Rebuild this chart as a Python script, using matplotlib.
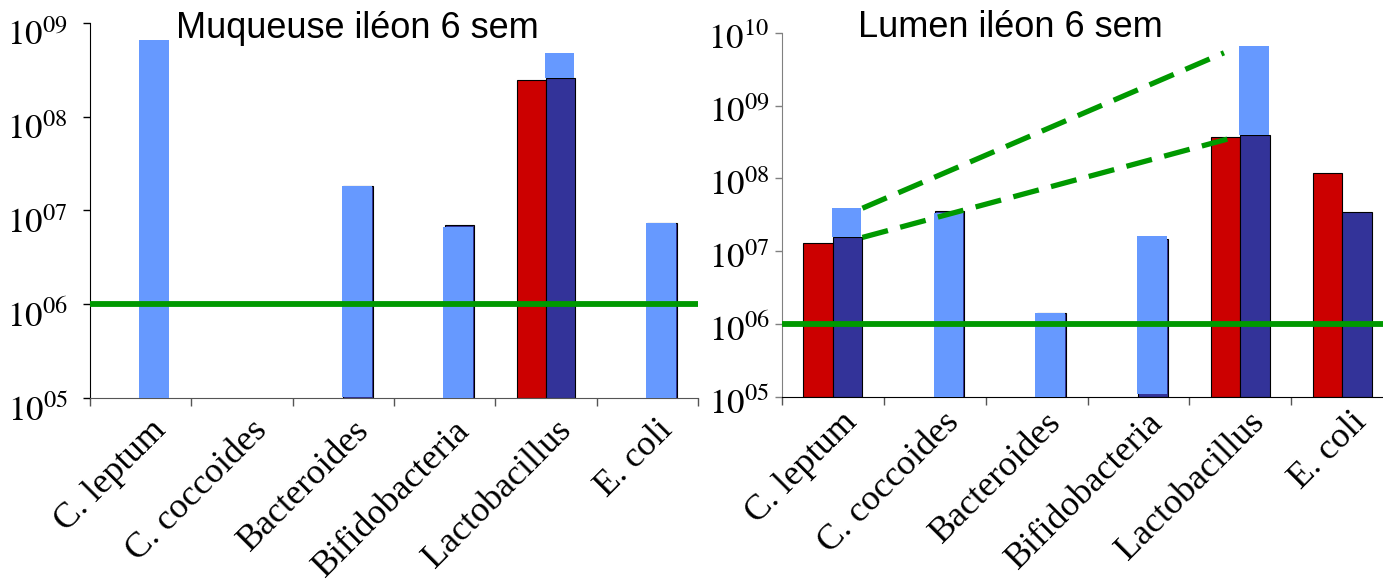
import numpy as np
import matplotlib
matplotlib.use("Agg")
import matplotlib.pyplot as plt
from matplotlib.ticker import FixedLocator, FuncFormatter, NullLocator
from matplotlib.transforms import ScaledTranslation

categories = ["C. leptum", "C. coccoides", "Bacteroides", "Bifidobacteria", "Lactobacillus", "E. coli"]

# Muqueuse iléon 6 sem
muq_red = [np.nan, np.nan, np.nan, np.nan, 2.45e8, np.nan]
muq_dark = [np.nan, np.nan, 1.8e7, 6.9e6, 2.6e8, 7.4e6]
muq_light_top = [6.6e8, np.nan, 1.8e7, 6.6e6, 4.8e8, 7.4e6]
muq_light_bottom = [1e5, np.nan, 1.03e5, 1e5, 2.6e8, 1e5]

# Lumen iléon 6 sem
lum_red = [1.31e7, np.nan, np.nan, np.nan, 3.7e8, 1.17e8]
lum_dark = [1.55e7, 3.6e7, 1.4e6, 1.48e7, 3.9e8, 3.46e7]
lum_light_top = [3.9e7, 3.4e7, 1.41e6, 1.62e7, 6.5e9, np.nan]
lum_light_bottom = [1.55e7, 1e5, 1e5, 1.1e5, 3.9e8, np.nan]

threshold = 1e6

RED = "#CC0000"
DARK = "#333399"
LIGHT = "#6699FF"
GREEN = "#009900"

plt.rcParams["mathtext.fontset"] = "stix"

fig = plt.figure(figsize=(13.83, 5.87), dpi=100)
axL = fig.add_axes([90 / 1383, (587 - 398) / 587, 608 / 1383, 375.3 / 587])
axR = fig.add_axes([782 / 1383, (587 - 397) / 587, 611 / 1383, 364.3 / 587])

W = 0.29


def draw(ax, red, dark, ltop, lbot, ymin, ymax, title, tx, ty,
         ypad, ylab_dy, xlab_dx, xlab_dy, left_color, bottom_color):
    x = np.arange(len(categories))
    red = np.array(red, float)
    dark = np.array(dark, float)
    ltop = np.array(ltop, float)
    lbot = np.array(lbot, float)
    m = np.isfinite(red)
    ax.bar(x[m] - W, red[m] - ymin, bottom=ymin, width=W, align="edge",
           color=RED, edgecolor="black", linewidth=0.8, zorder=2)
    m = np.isfinite(dark)
    ax.bar(x[m], dark[m] - ymin, bottom=ymin, width=W, align="edge",
           color=DARK, edgecolor="black", linewidth=0.8, zorder=2)
    m = np.isfinite(ltop)
    ax.bar(x[m] - 0.012, ltop[m] - lbot[m], bottom=lbot[m], width=W, align="edge",
           color=LIGHT, linewidth=0, zorder=3)
    ax.axhline(threshold, color=GREEN, linewidth=4.2, zorder=4)

    ax.set_yscale("log")
    ax.set_ylim(ymin, ymax)
    ax.set_xlim(-0.5, len(categories) - 0.5)
    decades = 10.0 ** np.arange(np.log10(ymin), np.log10(ymax) + 0.5)
    ax.yaxis.set_major_locator(FixedLocator(decades))
    ax.yaxis.set_minor_locator(NullLocator())
    ax.yaxis.set_major_formatter(FuncFormatter(lambda v, p: r"$10^{%02d}$" % round(np.log10(v))))
    ax.tick_params(axis="y", which="major", labelsize=25, length=5, width=1, pad=ypad,
                   colors="black", color=left_color)
    yoff = ScaledTranslation(0, -ylab_dy / 100, fig.dpi_scale_trans)
    for lab in ax.get_yticklabels():
        lab.set_transform(lab.get_transform() + yoff)
    ax.set_xticks(x)
    ax.set_xticklabels(categories, rotation=45, ha="right", va="top",
                       rotation_mode="anchor", fontsize=26, family="Liberation Serif")
    ax.set_xticks(np.arange(-0.5, len(categories)), minor=True)
    ax.tick_params(axis="x", which="major", length=0, pad=0)
    ax.tick_params(axis="x", which="minor", length=6, width=1, color="#555555", direction="out")
    offset = ScaledTranslation(xlab_dx / 100, -xlab_dy / 100, fig.dpi_scale_trans)
    for lab in ax.get_xticklabels():
        lab.set_transform(lab.get_transform() + offset)
    for s in ["top", "right"]:
        ax.spines[s].set_visible(False)
    ax.spines["left"].set_color(left_color)
    ax.spines["bottom"].set_color(bottom_color)
    ax.text(tx, ty, title, transform=ax.transAxes, ha="center", va="baseline",
            fontsize=26, family="Liberation Sans", zorder=6)
    return x, red, dark, ltop


draw(axL, muq_red, muq_dark, muq_light_top, muq_light_bottom, 1e5, 1e9,
     "Muqueuse iléon 6 sem", 0.439, 0.959,
     ypad=11, ylab_dy=9, xlab_dx=9, xlab_dy=16, left_color="black", bottom_color="#555555")
x, red, dark, ltop = draw(axR, lum_red, lum_dark, lum_light_top, lum_light_bottom, 1e5, 1e10,
                          "Lumen iléon 6 sem", 0.373, 0.988,
                          ypad=4, ylab_dy=3, xlab_dx=8, xlab_dy=9,
                          left_color="#808080", bottom_color="black")

# dashed connectors between C. leptum and Lactobacillus (lumen)
i0, i1 = 0, 4
x0, x1 = x[i0] + W, x[i1] - 0.012
y0, y1 = np.log10(ltop[i0]), np.log10(ltop[i1])
f = 0.96
axR.plot([x0, x0 + f * (x1 - x0)], [10 ** y0, 10 ** (y0 + f * (y1 - y0))],
         color=GREEN, linewidth=3.8, dashes=(5, 2.4), zorder=5, clip_on=False)
axR.plot([x[i0] + W, x[i1] - 0.05], [dark[i0], red[i1]],
         color=GREEN, linewidth=3.8, dashes=(5, 2.4), zorder=5, clip_on=False)

fig.savefig("out.png", dpi=100)
